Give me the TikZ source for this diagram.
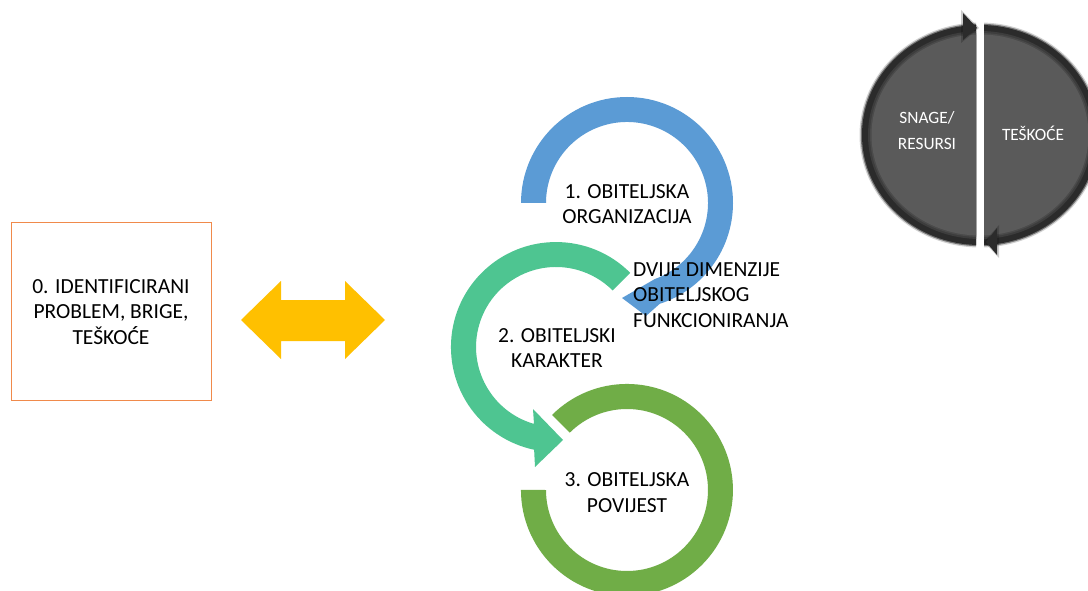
\documentclass[tikz,border=0pt]{standalone}
\usepackage{fontspec}
\setmainfont{Carlito}
\definecolor{cBlue}{HTML}{5B9BD5}
\definecolor{cTeal}{HTML}{4EC591}
\definecolor{cGreen}{HTML}{70AD47}
\definecolor{cGold}{HTML}{FFC000}
\definecolor{cOrange}{HTML}{F08A4B}
\definecolor{cGrey}{HTML}{5A5A5A}
\definecolor{cBand}{HTML}{2B2B2B}
\definecolor{cBandMid}{HTML}{3D3D3D}
\definecolor{cBandSoft}{HTML}{4A4A4A}
\tikzset{
  lbl/.style={font=\fontsize{21.5}{25.5}\selectfont, align=center, inner sep=0pt, text=black},
  lblwhite/.style={font=\fontsize{17.3}{26}\selectfont, align=center, inner sep=0pt, text=white},
  problembox/.style={draw=cOrange, line width=0.9pt, minimum width=200pt, minimum height=178pt, inner sep=0pt},
  softedge/.style={fill=black, opacity=#1},
}
\newcommand{\halfdisc}{%
  \fill[softedge=0.18] (980,135) ellipse[x radius=120.5, y radius=112.5];
  \fill[softedge=0.45] (980,135) ellipse[x radius=119.2, y radius=111.2];
  \fill[cBand] (980,135) ellipse[x radius=118, y radius=110];
  \fill[cBandMid] (980,135) ellipse[x radius=112, y radius=104];
  \fill[cBandSoft] (980,135) ellipse[x radius=110, y radius=102];
  \fill[cGrey] (980,135) ellipse[x radius=108.5, y radius=100.5];
}
\begin{document}
\begin{tikzpicture}[x=1pt,y=-1pt]
\useasboundingbox (0,0) rectangle (1088,591);
\fill[white] (0,0) rectangle (1088,591);
\clip (0,0) rectangle (1088,591);

% problem box
\node[problembox] (box0) at (111,311) {};
\node[lbl] (t0) at (111,312) {0. IDENTIFICIRANI\\PROBLEM, BRIGE,\\TEŠKOĆE};

% two-way arrow
\fill[cGold] (241,320) -- (281,281) -- (281,300) -- (345,300) -- (345,281)
  -- (385,320) -- (345,359) -- (345,341) -- (281,341) -- (281,359) -- cycle;

% 1: blue circular arrow
\fill[cBlue] (521,203) arc[start angle=180, end angle=432, radius=106]
  -- (646,316) -- (622,298) -- (654.7,279.1)
  arc[start angle=430, end angle=180, radius=81] -- cycle;

% 2: teal circular arrow
\fill[cTeal] (630.2,272.8) arc[start angle=-45, end angle=-258, radius=105]
  -- (535,467) -- (563,440) -- (533,409) -- (534,423.9)
  arc[start angle=-254, end angle=-45, radius=80] -- cycle;

% 3: green ring
\fill[cGreen] (552.0,415.0) arc[start angle=225, end angle=540, radius=106]
  -- (546,490) arc[start angle=540, end angle=225, radius=81] -- cycle;

\node[lbl] (t1) at (627,204) {1. OBITELJSKA\\ORGANIZACIJA};
\node[lbl] (t2) at (557,348) {2. OBITELJSKI\\KARAKTER};
\node[lbl] (t3) at (627,492.5) {3. OBITELJSKA\\POVIJEST};
\node[lbl, align=left, anchor=west] (dims) at (633,295) {DVIJE DIMENZIJE\\OBITELJSKOG\\FUNKCIONIRANJA};

% strengths / difficulties disc, left half
\begin{scope}
  \clip (840,0) rectangle (976,270);
  \halfdisc
\end{scope}
% right half
\begin{scope}
  \clip (984,0) rectangle (1100,270);
  \halfdisc
\end{scope}
% arrow tips on the border bands
\fill[softedge=0.2] (961,10) -- (979,28) -- (961,43) -- cycle;
\fill[cBand] (963,13) -- (977,28) -- (963,40) -- cycle;
\fill[softedge=0.2] (999,225) -- (984,242) -- (999,258) -- cycle;
\fill[cBand] (997,228) -- (986,242) -- (997,255) -- cycle;

\node[lblwhite] (snage) at (927,131) {SNAGE/\\RESURSI};
\node[lblwhite] (teskoce) at (1033,133) {TEŠKOĆE};
\end{tikzpicture}
\end{document}
